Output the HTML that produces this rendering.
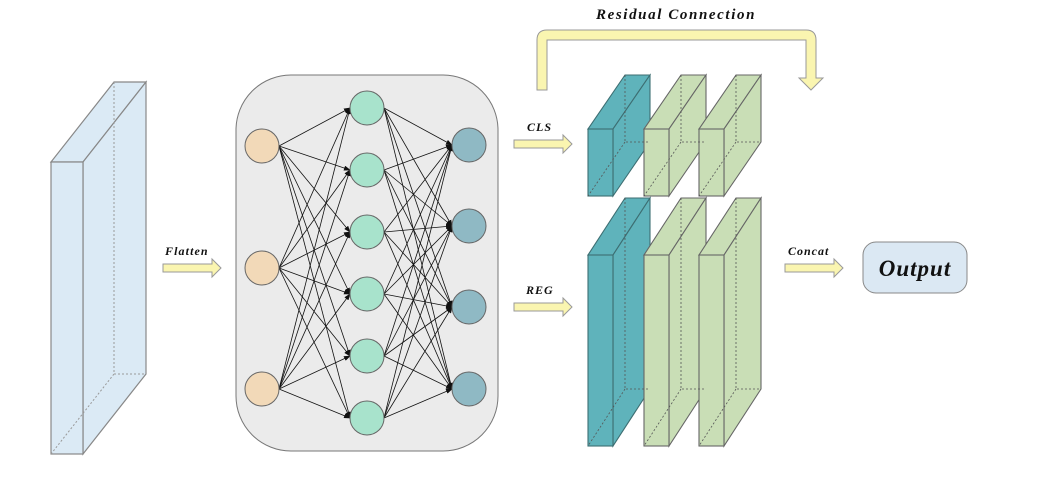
<!DOCTYPE html>
<html><head><meta charset="utf-8"><style>
html,body{margin:0;padding:0;background:#fff}
svg text{font-family:"Liberation Serif",serif;font-style:italic;font-weight:bold;fill:#111}
</style></head><body>
<svg width="1059" height="479" viewBox="0 0 1059 479" xmlns="http://www.w3.org/2000/svg">
<defs>
<marker id="ah" markerWidth="7" markerHeight="5" refX="6" refY="2.5" orient="auto" markerUnits="userSpaceOnUse">
<path d="M0,0 L7,2.5 L0,5 Z" fill="#111"/></marker>
</defs>
<g stroke="#888" stroke-width="1.2" fill="#dbeaf5">
<polygon points="51,162 83,162 146,82 114,82"/>
<polygon points="83,162 146,82 146,374 83,454"/>
<rect x="51" y="162" width="32" height="292"/>
</g>
<g stroke="#999" stroke-width="1" stroke-dasharray="2,2" fill="none">
<line x1="114" y1="82" x2="114" y2="374"/><line x1="114" y1="374" x2="146" y2="374"/><line x1="114" y1="374" x2="51" y2="454"/>
</g>
<g fill="#faf5b0" stroke="#999" stroke-width="1">
<polygon points="163,264 212,264 212,259 221,268 212,277 212,272 163,272"/>
<polygon points="514,140 563,140 563,135 572,144 563,153 563,148 514,148"/>
<polygon points="514,303 563,303 563,298 572,307 563,316 563,311 514,311"/>
<polygon points="785,264 834,264 834,259 843,268 834,277 834,272 785,272"/>
<path d="M537,90 L537,40 Q537,30 547,30 L806,30 Q816,30 816,40 L816,78 L823,78 L811,90 L799,78 L806,78 L806,40 L547,40 L547,90 Z"/>
</g>
<text x="165" y="255" font-size="12" letter-spacing="1.1">Flatten</text>
<text x="527" y="131" font-size="12" letter-spacing="1">CLS</text>
<text x="526" y="294" font-size="12" letter-spacing="1">REG</text>
<text x="788" y="255" font-size="12" letter-spacing="1">Concat</text>
<text x="596" y="19" font-size="15" letter-spacing="1.6">Residual Connection</text>
<rect x="236" y="75" width="262" height="376" rx="55" fill="#ebebeb" stroke="#777" stroke-width="1"/>
<g stroke="#111" stroke-width="0.8" marker-end="url(#ah)">
<line x1="279" y1="146" x2="350" y2="108"/><line x1="279" y1="146" x2="350" y2="170"/><line x1="279" y1="146" x2="350" y2="232"/><line x1="279" y1="146" x2="350" y2="294"/><line x1="279" y1="146" x2="350" y2="356"/><line x1="279" y1="146" x2="350" y2="418"/>
<line x1="279" y1="268" x2="350" y2="108"/><line x1="279" y1="268" x2="350" y2="170"/><line x1="279" y1="268" x2="350" y2="232"/><line x1="279" y1="268" x2="350" y2="294"/><line x1="279" y1="268" x2="350" y2="356"/><line x1="279" y1="268" x2="350" y2="418"/>
<line x1="279" y1="389" x2="350" y2="108"/><line x1="279" y1="389" x2="350" y2="170"/><line x1="279" y1="389" x2="350" y2="232"/><line x1="279" y1="389" x2="350" y2="294"/><line x1="279" y1="389" x2="350" y2="356"/><line x1="279" y1="389" x2="350" y2="418"/>
<line x1="384" y1="108" x2="452" y2="145"/><line x1="384" y1="108" x2="452" y2="226"/><line x1="384" y1="108" x2="452" y2="307"/><line x1="384" y1="108" x2="452" y2="389"/>
<line x1="384" y1="170" x2="452" y2="145"/><line x1="384" y1="170" x2="452" y2="226"/><line x1="384" y1="170" x2="452" y2="307"/><line x1="384" y1="170" x2="452" y2="389"/>
<line x1="384" y1="232" x2="452" y2="145"/><line x1="384" y1="232" x2="452" y2="226"/><line x1="384" y1="232" x2="452" y2="307"/><line x1="384" y1="232" x2="452" y2="389"/>
<line x1="384" y1="294" x2="452" y2="145"/><line x1="384" y1="294" x2="452" y2="226"/><line x1="384" y1="294" x2="452" y2="307"/><line x1="384" y1="294" x2="452" y2="389"/>
<line x1="384" y1="356" x2="452" y2="145"/><line x1="384" y1="356" x2="452" y2="226"/><line x1="384" y1="356" x2="452" y2="307"/><line x1="384" y1="356" x2="452" y2="389"/>
<line x1="384" y1="418" x2="452" y2="145"/><line x1="384" y1="418" x2="452" y2="226"/><line x1="384" y1="418" x2="452" y2="307"/><line x1="384" y1="418" x2="452" y2="389"/>
</g>
<g stroke="#666" stroke-width="1">
<g fill="#f2d9b8"><circle cx="262" cy="146" r="17"/><circle cx="262" cy="268" r="17"/><circle cx="262" cy="389" r="17"/></g>
<g fill="#a8e3cc"><circle cx="367" cy="108" r="17"/><circle cx="367" cy="170" r="17"/><circle cx="367" cy="232" r="17"/><circle cx="367" cy="294" r="17"/><circle cx="367" cy="356" r="17"/><circle cx="367" cy="418" r="17"/></g>
<g fill="#8fb9c4"><circle cx="469" cy="145" r="17"/><circle cx="469" cy="226" r="17"/><circle cx="469" cy="307" r="17"/><circle cx="469" cy="389" r="17"/></g>
</g>
<g stroke-width="1.1">
<g fill="#5fb3bb" stroke="#3d6e72">
<polygon points="588,129 613,129 650,75 625,75"/><polygon points="613,129 650,75 650,142 613,196"/><rect x="588" y="129" width="25" height="67"/>
<polygon points="588,255 613,255 650,198 625,198"/><polygon points="613,255 650,198 650,389 613,446"/><rect x="588" y="255" width="25" height="191"/>
</g>
<g fill="#c9deb6" stroke="#666">
<polygon points="644,129 669,129 706,75 681,75"/><polygon points="669,129 706,75 706,142 669,196"/><rect x="644" y="129" width="25" height="67"/>
<polygon points="699,129 724,129 761,75 736,75"/><polygon points="724,129 761,75 761,142 724,196"/><rect x="699" y="129" width="25" height="67"/>
<polygon points="644,255 669,255 706,198 681,198"/><polygon points="669,255 706,198 706,389 669,446"/><rect x="644" y="255" width="25" height="191"/>
<polygon points="699,255 724,255 761,198 736,198"/><polygon points="724,255 761,198 761,389 724,446"/><rect x="699" y="255" width="25" height="191"/>
</g>
</g>
<g stroke="#555" stroke-width="0.8" stroke-dasharray="2,2" fill="none">
<path d="M625,75 V142 H650 M625,142 L588,196"/>
<path d="M681,75 V142 H706 M681,142 L644,196"/>
<path d="M736,75 V142 H761 M736,142 L699,196"/>
<path d="M625,198 V389 H650 M625,389 L588,446"/>
<path d="M681,198 V389 H706 M681,389 L644,446"/>
<path d="M736,198 V389 H761 M736,389 L699,446"/>
</g>
<rect x="863" y="242" width="104" height="51" rx="13" fill="#dbe8f3" stroke="#888" stroke-width="1"/>
<text x="915" y="276" font-size="23" letter-spacing="1" text-anchor="middle">Output</text>
</svg>
</body></html>
